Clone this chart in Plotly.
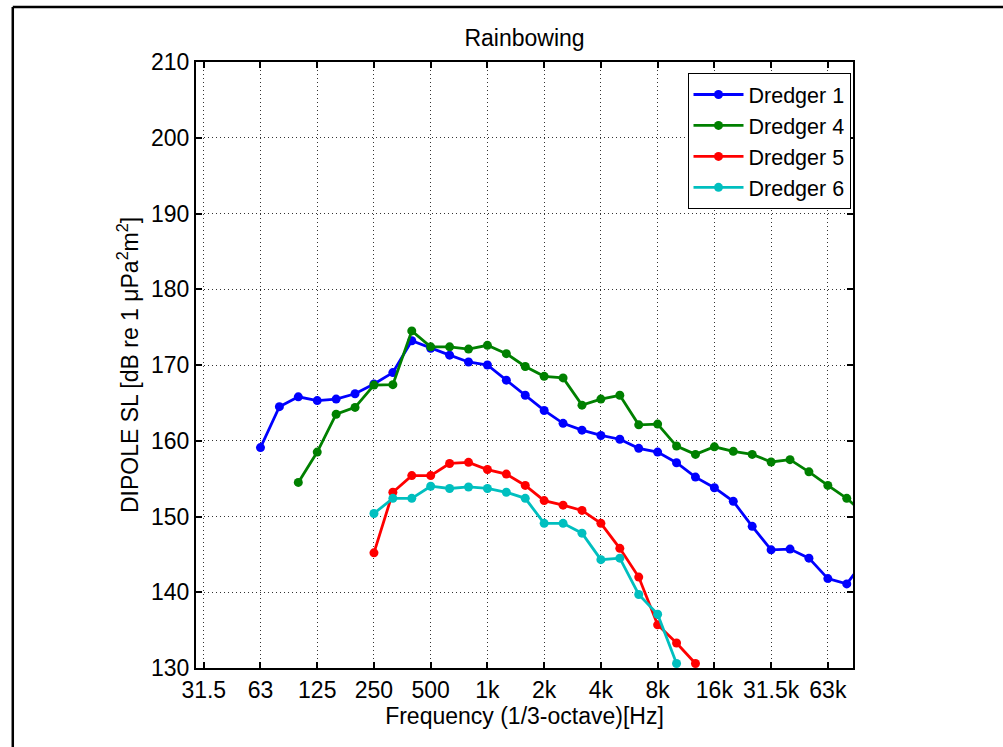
import math
import plotly.graph_objects as go

# 1/3-octave band centre frequencies (nominal, Hz) and source levels (dB)
d1_freq = [63, 80, 100, 125, 160, 200, 250, 315, 400, 500, 630, 800, 1000, 1250,
           1600, 2000, 2500, 3150, 4000, 5000, 6300, 8000, 10000, 12500, 16000,
           20000, 25000, 31500, 40000, 50000, 63000, 80000, 100000]
d1_level = [159.1, 164.5, 165.8, 165.3, 165.5, 166.2, 167.5, 169.0, 173.2, 172.2,
            171.3, 170.4, 170.0, 168.0, 166.0, 164.0, 162.3, 161.4, 160.7, 160.2,
            159.0, 158.5, 157.1, 155.2, 153.8, 152.0, 148.7, 145.6, 145.7, 144.5,
            141.8, 141.1, 144.4]

d4_freq = [100, 125, 160, 200, 250, 315, 400, 500, 630, 800, 1000, 1250, 1600,
           2000, 2500, 3150, 4000, 5000, 6300, 8000, 10000, 12500, 16000, 20000,
           25000, 31500, 40000, 50000, 63000, 80000, 100000]
d4_level = [154.5, 158.5, 163.5, 164.4, 167.35, 167.4, 174.5, 172.4, 172.4, 172.1,
            172.6, 171.5, 169.8, 168.5, 168.3, 164.7, 165.5, 166.0, 162.1, 162.2,
            159.3, 158.2, 159.2, 158.6, 158.2, 157.2, 157.5, 155.9, 154.1, 152.4,
            150.2]

d5_freq = [250, 315, 400, 500, 630, 800, 1000, 1250, 1600, 2000, 2500, 3150, 4000,
           5000, 6300, 8000, 10000, 12500]
d5_level = [145.2, 153.2, 155.4, 155.4, 157.0, 157.15, 156.2, 155.6, 154.1, 152.1,
            151.5, 150.8, 149.1, 145.8, 142.0, 135.7, 133.3, 130.6]

d6_freq = [250, 315, 400, 500, 630, 800, 1000, 1250, 1600, 2000, 2500, 3150, 4000,
           5000, 6300, 8000, 10000]
d6_level = [150.4, 152.4, 152.4, 154.0, 153.7, 153.9, 153.7, 153.2, 152.4, 149.1,
            149.1, 147.8, 144.3, 144.5, 139.7, 137.1, 130.6]

tick_freq = [31.5, 63, 125, 250, 500, 1000, 2000, 4000, 8000, 16000, 31500, 63000]
tick_text = ["31.5", "63", "125", "250", "500", "1k", "2k", "4k", "8k", "16k",
             "31.5k", "63k"]


def exact_band(f):
    """Exact base-ten 1/3-octave centre for a nominal band frequency."""
    return 10 ** (round(10 * math.log10(f)) / 10)


FONT = "Liberation Sans, Arial, sans-serif"
TXT = 23

series = [
    ("Dredger 1", d1_freq, d1_level, "#0000FF"),
    ("Dredger 4", d4_freq, d4_level, "#008000"),
    ("Dredger 5", d5_freq, d5_level, "#FF0000"),
    ("Dredger 6", d6_freq, d6_level, "#00BFBF"),
]

fig = go.Figure()
for name, freq, level, color in series:
    fig.add_trace(go.Scatter(
        x=[exact_band(f) for f in freq], y=level, name=name,
        mode="lines+markers",
        line=dict(color=color, width=2.8),
        marker=dict(color=color, size=9, symbol="circle"),
    ))

# plot-area geometry in pixels
L, R, T, B = 195.5, 853.5, 62, 668
W, H = 1003, 747


def px_x(p):
    return (p - L) / (R - L)


def px_y(p):
    return (B - p) / (B - T)


axis_common = dict(
    showline=True, linecolor="black", linewidth=2, mirror="allticks",
    ticks="inside", ticklen=6, tickwidth=2, tickcolor="black",
    showgrid=True, gridcolor="#333333", gridwidth=1, griddash="1px,3px",
    zeroline=False,
    tickfont=dict(family=FONT, size=TXT, color="black"),
)

fig.update_xaxes(
    type="log",
    range=[3 + (-15.41) / 10, 3 + 19.33 / 10],
    tickvals=[exact_band(f) for f in tick_freq], ticktext=tick_text,
    title=dict(text="Frequency (1/3-octave)[Hz]",
               font=dict(family=FONT, size=TXT, color="black"), standoff=2),
    **axis_common,
)
fig.update_yaxes(
    range=[130, 210], tickvals=list(range(130, 211, 10)),
    title=dict(text="DIPOLE SL [dB re 1 \u03bcPa<sup>2</sup>m<sup>2</sup>]",
               font=dict(family=FONT, size=TXT, color="black"), standoff=6),
    **axis_common,
)

fig.update_layout(
    width=W, height=H,
    margin=dict(l=L, r=W - R, t=T, b=H - B, pad=0),
    paper_bgcolor="white", plot_bgcolor="white",
    title=dict(text="Rainbowing", x=px_x(524.5), xref="paper",
               y=1 - 38 / H, yref="container", xanchor="center", yanchor="middle",
               font=dict(family=FONT, size=TXT, color="black")),
    legend=dict(
        x=px_x(851), y=px_y(73), xanchor="right", yanchor="top",
        bgcolor="white", bordercolor="black", borderwidth=1,
        font=dict(family=FONT, size=21.5, color="black"),
        itemwidth=50, tracegroupgap=0,
    ),
    showlegend=True,
    shapes=[
        dict(type="line", xref="paper", yref="paper",
             x0=px_x(12), x1=px_x(12), y0=px_y(7), y1=px_y(H + 2),
             line=dict(color="black", width=2.5)),
        dict(type="line", xref="paper", yref="paper",
             x0=px_x(12), x1=px_x(W + 2), y0=px_y(7), y1=px_y(7),
             line=dict(color="black", width=2.5)),
    ],
)

fig.write_html("out.html")
